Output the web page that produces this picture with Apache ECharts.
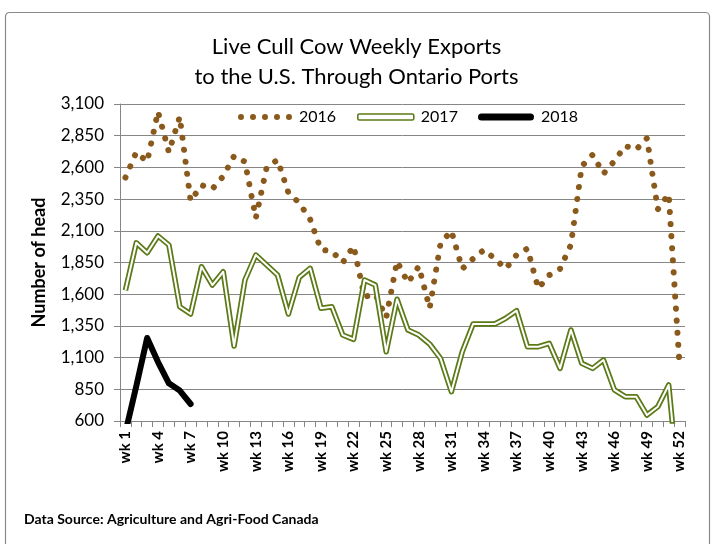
<!DOCTYPE html>
<html>
<head>
<meta charset="utf-8">
<style>html,body{margin:0;padding:0;background:#fff}#c{width:713px;height:544px}</style>
<script src="https://cdn.jsdelivr.net/npm/echarts@6/dist/echarts.min.js"></script>
</head>
<body>
<div id="c"></div>
<script>
const weeks = [];
for (let i = 1; i <= 52; i++) weeks.push('wk ' + i);

const yTicks = [600, 850, 1100, 1350, 1600, 1850, 2100, 2350, 2600, 2850, 3100];

const s2016 = [2520, 2720, 2645, 3040, 2720, 3000, 2335, 2460, 2430, 2530,
               2690, 2645, 2200, 2600, 2660, 2400, 2320, 2190, 1950, 1940,
               1850, 1980, 1580, 1600, 1415, 1860, 1690, 1820, 1490, 2000,
               2100, 1800, 1880, 1950, 1880, 1800, 1910, 1960, 1645, 1750,
               1800, 1990, 2610, 2700, 2550, 2650, 2770, 2740, 2830, 2270,
               2390, 1036];

const s2017 = [1630, 2005, 1927, 2059, 1988, 1501, 1444, 1817, 1672, 1777,
               1191, 1712, 1909, 1830, 1751, 1444, 1733, 1804, 1489, 1501,
               1278, 1244, 1712, 1672, 1146, 1560, 1318, 1278, 1207, 1094,
               831, 1146, 1365, 1365, 1365, 1410, 1470, 1186, 1186, 1212,
               1015, 1318, 1055, 1015, 1081, 845, 792, 792, 647, 713,
               884, 0];

const s2018 = [510, 875, 1255, 1065, 897, 840, 734];

const BROWN = '#8a5a1c';
const GREEN = '#5c7a17';
const FONT = 'Lato';

const dotsIcon = 'path://M0,3a3,3 0 1,0 6,0a3,3 0 1,0 -6,0z' +
  'M12,3a3,3 0 1,0 6,0a3,3 0 1,0 -6,0z' +
  'M24,3a3,3 0 1,0 6,0a3,3 0 1,0 -6,0z' +
  'M36,3a3,3 0 1,0 6,0a3,3 0 1,0 -6,0z' +
  'M48,3a3,3 0 1,0 6,0a3,3 0 1,0 -6,0z';
const capsuleIcon = 'path://M3.5,0L52.5,0A3.5,3.5 0 0,1 52.5,7L3.5,7A3.5,3.5 0 0,1 3.5,0z';

const legendText = { fontFamily: FONT, fontSize: 16, color: '#000', padding: [0, 0, 0, 2] };

const chart = echarts.init(document.getElementById('c'));
chart.setOption({
  animation: false,
  backgroundColor: '#fff',
  title: {
    text: 'Live Cull Cow Weekly Exports\nto the U.S. Through Ontario Ports',
    left: 'center',
    top: 27,
    textStyle: { fontFamily: FONT, fontSize: 22, fontWeight: 'normal', color: '#000', lineHeight: 30 }
  },
  legend: [
    { left: 238, top: 109, padding: 0, itemWidth: 54, itemHeight: 6,
      textStyle: legendText,
      data: [{ name: '2016', icon: dotsIcon, itemStyle: { color: BROWN, borderWidth: 0 } }] },
    { left: 357, top: 109, padding: 0, itemWidth: 56, itemHeight: 6,
      textStyle: legendText,
      data: [{ name: '2017', icon: 'roundRect',
               itemStyle: { color: '#fff', borderColor: GREEN, borderWidth: 1.6 } }] },
    { left: 478, top: 109, padding: 0, itemWidth: 56, itemHeight: 7,
      textStyle: legendText,
      data: [{ name: '2018', icon: capsuleIcon, itemStyle: { color: '#000', borderWidth: 0 } }] }
  ],
  grid: { left: 120, right: 28, top: 104, bottom: 123, containLabel: false },
  xAxis: {
    type: 'category',
    data: weeks,
    boundaryGap: true,
    axisLine: { lineStyle: { color: '#868686', width: 1 } },
    axisTick: { show: true, interval: 0, length: 6, lineStyle: { color: '#868686' } },
    axisLabel: { interval: 2, rotate: 90, margin: 10, fontFamily: FONT, fontSize: 15,
                 fontWeight: 'bold', color: '#000' }
  },
  yAxis: {
    type: 'value',
    min: 600, max: 3100, interval: 250,
    name: 'Number of head',
    nameLocation: 'middle',
    nameGap: 72,
    nameTextStyle: { fontFamily: FONT, fontSize: 18, fontWeight: 'bold', color: '#000' },
    axisLine: { show: true, lineStyle: { color: '#868686' } },
    axisTick: { show: true, length: 6, lineStyle: { color: '#868686' } },
    splitLine: { lineStyle: { color: '#868686', width: 1 } },
    axisLabel: { fontFamily: FONT, fontSize: 17, color: '#000', margin: 16,
                 formatter: v => yTicks.includes(v) ? v.toLocaleString('en-US') : '' }
  },
  series: [
    { name: '2016', type: 'line', data: s2016, symbol: 'none', z: 3,
      lineStyle: { color: BROWN, width: 6, type: [0.1, 12], cap: 'round', join: 'round' },
      itemStyle: { color: BROWN } },
    { name: '2017', type: 'line', data: s2017, symbol: 'none', z: 4,
      lineStyle: { color: GREEN, width: 5.5, join: 'round' }, itemStyle: { color: GREEN } },
    { name: '2017 inner', type: 'line', data: s2017, symbol: 'none', z: 5,
      lineStyle: { color: '#fff', width: 2, join: 'round' }, itemStyle: { color: '#fff' } },
    { name: '2018', type: 'line', data: s2018, symbol: 'none', z: 6,
      lineStyle: { color: '#000', width: 6, cap: 'round', join: 'round' }, itemStyle: { color: '#000' } }
  ],
  graphic: [
    { type: 'rect', left: 3, top: 10, z: -1, silent: true,
      shape: { width: 704, height: 545, r: 4 },
      style: { fill: 'none', stroke: '#8a8a8a', lineWidth: 1.2 } },
    { type: 'text', left: 24, top: 512,
      style: { text: 'Data Source: Agriculture and Agri-Food Canada', fontFamily: FONT,
               fontSize: 14, fontWeight: 'bold', fill: '#000' } }
  ]
});
</script>
</body>
</html>
